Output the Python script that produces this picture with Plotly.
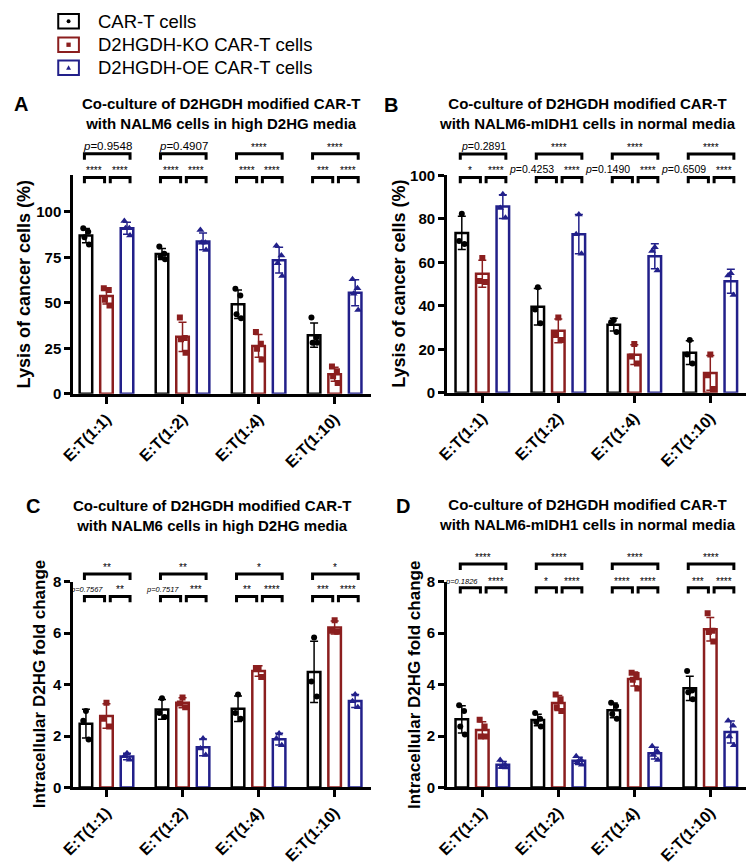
import numpy as np
import plotly.graph_objects as go

W, H = 747, 865
FONT = "Arial, Liberation Sans, Helvetica, sans-serif"

categories = ["E:T(1:1)", "E:T(1:2)", "E:T(1:4)", "E:T(1:10)"]
series_names = ["CAR-T cells", "D2HGDH-KO CAR-T cells", "D2HGDH-OE CAR-T cells"]

# ---- Panel A: lysis (%) in high D2HG media (4 replicates)
A_car = [[91, 89, 86, 82], [81, 77, 75.5, 74], [57.7, 54, 43.7, 41.5], [42, 31, 28, 28]]
A_ko = [[58, 57, 51.7, 48.5], [42, 30.7, 30, 22.6], [34, 27.5, 24.8, 18.9], [15, 12.4, 9.7, 6]]
A_oe = [[95, 91, 91, 87], [90, 83, 83, 79], [81.4, 76, 71.7, 64.7], [63, 58, 55, 46]]
A_sig = [["****", "****", "p=0.9548"], ["****", "****", "p=0.4907"],
         ["****", "****", "****"], ["***", "****", "****"]]

# ---- Panel B: lysis (%) NALM6-mIDH1 normal media (3 replicates)
B_car = [[82.4, 69.8, 68.5], [48.6, 38.3, 32], [33.5, 32.5, 28], [24.3, 17.6, 13.5]]
B_ko = [[62, 51.5, 51], [34.7, 26.6, 24.3], [22.5, 16.7, 13.5], [17.6, 8.1, 1.8]]
B_oe = [[91.4, 85, 80.6], [82, 73, 64], [67, 65.3, 56.3], [55, 54, 45]]
B_sig = [["*", "****", "p=0.2891"], ["p=0.4253", "****", "****"],
         ["p=0.1490", "****", "****"], ["p=0.6509", "****", "****"]]

# ---- Panel C: intracellular D2HG fold change, high D2HG media (3 replicates)
C_car = [[2.97, 2.6, 1.87], [3.47, 2.9, 2.74], [3.62, 2.9, 2.67], [5.83, 4.12, 3.54]]
C_ko = [[3.3, 2.67, 2.37], [3.5, 3.27, 3.12], [4.65, 4.65, 4.3], [6.51, 6.1, 6.06]]
C_oe = [[1.33, 1.21, 1.08], [1.9, 1.52, 1.26], [2.1, 1.9, 1.64], [3.62, 3.35, 3.12]]
C_sig = [["p=0.7567", "**", "**"], ["p=0.7517", "***", "**"],
         ["**", "****", "*"], ["***", "****", "*"]]

# ---- Panel D: intracellular D2HG fold change, normal media (4 replicates)
D_car = [[3.2, 2.97, 2.37, 2.06], [2.9, 2.67, 2.55, 2.37], [3.3, 3.17, 2.86, 2.67], [4.53, 3.77, 3.7, 3.43]]
D_ko = [[2.63, 2.37, 1.98, 1.98], [3.62, 3.43, 3.12, 2.97], [4.46, 4.38, 4.19, 3.85], [6.78, 6.1, 6.05, 5.68]]
D_oe = [[1.07, 0.88, 0.8, 0.78], [1.21, 1.07, 0.98, 0.88], [1.6, 1.41, 1.26, 1.07], [2.6, 2.4, 1.98, 1.64]]
D_sig = [["p=0.1826", "****", "****"], ["*", "****", "****"],
         ["****", "****", "****"], ["***", "****", "****"]]

COLORS = ["#000000", "#8B1E1E", "#22208A"]
SYMBOLS = ["circle", "square", "triangle-up"]
MSIZE = [6, 6, 7]
OFFS = [-0.27, 0.0, 0.27]
BAR_W = 0.165
JIT = {3: [0.0, -0.035, 0.035], 4: [-0.035, 0.03, -0.02, 0.04]}

title1 = "Co-culture of D2HGDH modified CAR-T"
panels = [
    dict(letter="A", data=[A_car, A_ko, A_oe], sig=A_sig,
         xpx=(62, 365), ypx=(170, 393), xr=(-0.44, 3.48), yr=(0, 120),
         yt=[0, 25, 50, 75, 100], lower=118.9, upper=131.9, pfont=11.5, sfont=10,
         title=[title1, "with NALM6 cells in high D2HG media"], tx=212, ty=106.5,
         lxy=(9, 97), ytitle="Lysis of cancer cells (%)", ytx=12, ytsize=18),
    dict(letter="B", data=[B_car, B_ko, B_oe], sig=B_sig,
         xpx=(442, 746), ypx=(170, 392), xr=(-0.466, 3.47), yr=(0, 100),
         yt=[0, 20, 40, 60, 80, 100], lower=99.1, upper=109.9, pfont=10.5, sfont=10,
         title=[title1, "with NALM6-mIDH1 cells in normal media"], tx=585, ty=106.5,
         lxy=(385, 98), ytitle="Lysis of cancer cells (%)", ytx=393, ytsize=18),
    dict(letter="C", data=[C_car, C_ko, C_oe], sig=C_sig,
         xpx=(62, 365), ypx=(585, 795), xr=(-0.44, 3.48), yr=(0, 8),
         yt=[0, 2, 4, 6, 8], lower=7.43, upper=8.30, pfont=7.5, sfont=10,
         title=[title1, "with NALM6 cells in high D2HG media"], tx=203, ty=517,
         lxy=(21, 508), ytitle="Intracellular D2HG fold change", ytx=28, ytsize=17),
    dict(letter="D", data=[D_car, D_ko, D_oe], sig=D_sig,
         xpx=(442, 746), ypx=(585, 795), xr=(-0.466, 3.47), yr=(0, 8),
         yt=[0, 2, 4, 6, 8], lower=7.77, upper=8.69, pfont=7.5, sfont=10,
         title=[title1, "with NALM6-mIDH1 cells in normal media"], tx=585, ty=516,
         lxy=(397, 508), ytitle="Intracellular D2HG fold change", ytx=409, ytsize=17),
]

LEG_PX = 6
BR_LL = (-0.29, -0.025)
BR_LR = (0.05, 0.31)
BR_UP = (-0.29, 0.31)

fig = go.Figure()
layout = dict(width=W, height=H, margin=dict(l=0, r=0, t=0, b=0),
              paper_bgcolor="white", plot_bgcolor="white", barmode="overlay",
              showlegend=False, font=dict(family=FONT, color="black"))
shapes, annotations = [], []

for i, P in enumerate(panels):
    n = "" if i == 0 else str(i + 1)
    xa, ya = "x" + n, "y" + n
    for s in range(3):
        vals = P["data"][s]
        means = [float(np.mean(v)) for v in vals]
        sds = [float(np.std(v, ddof=1)) for v in vals]
        xs = [g + OFFS[s] for g in range(len(categories))]
        fig.add_trace(go.Bar(
            x=xs, y=means, width=BAR_W, xaxis=xa, yaxis=ya, name=series_names[s],
            marker=dict(color="white", line=dict(color=COLORS[s], width=2.5)),
            error_y=dict(type="data", array=sds, visible=True, color=COLORS[s],
                         thickness=1.5, width=4),
            hoverinfo="skip"))
        px, py = [], []
        for g, v in enumerate(vals):
            jj = JIT[len(v)]
            for k, val in enumerate(v):
                px.append(g + OFFS[s] + jj[k])
                py.append(val)
        fig.add_trace(go.Scatter(
            x=px, y=py, mode="markers", xaxis=xa, yaxis=ya, name=series_names[s],
            marker=dict(symbol=SYMBOLS[s], size=MSIZE[s], color=COLORS[s]),
            hoverinfo="skip"))

    x0p, x1p = P["xpx"]
    yt_px, yb_px = P["ypx"]
    layout["xaxis" + n] = dict(
        domain=[x0p / W, x1p / W], range=list(P["xr"]), anchor=ya,
        tickvals=list(range(len(categories))), ticktext=categories, tickangle=-45,
        showline=True, linecolor="black", linewidth=2.5, ticks="outside",
        ticklen=7, tickwidth=2.5, tickcolor="black", showgrid=False, zeroline=False,
        tickfont=dict(family=FONT, size=16, color="black", weight="bold"), fixedrange=True)
    layout["yaxis" + n] = dict(
        domain=[1 - yb_px / H, 1 - yt_px / H], range=list(P["yr"]), anchor=xa,
        tickvals=P["yt"], showline=True, linecolor="black", linewidth=2.5,
        ticks="outside", ticklen=6, tickwidth=2.5, tickcolor="black",
        showgrid=False, zeroline=False,
        tickfont=dict(family=FONT, size=15, color="black", weight="bold"), fixedrange=True)

    xr0, xr1 = P["xr"]
    yr0, yr1 = P["yr"]
    fx = lambda x: (x - xr0) / (xr1 - xr0)
    fy = lambda y: (y - yr0) / (yr1 - yr0)
    leg = LEG_PX / (yb_px - yt_px)
    xdref, ydref = xa + " domain", ya + " domain"

    for g in range(len(categories)):
        labels = P["sig"][g]
        for (lo, hi), lev, lab, kind in [(BR_LL, P["lower"], labels[0], "ll"),
                                         (BR_LR, P["lower"], labels[1], "lr"),
                                         (BR_UP, P["upper"], labels[2], "up")]:
            a, b = fx(g + lo), fx(g + hi)
            yy = fy(lev)
            shapes.append(dict(type="path", xref=xdref, yref=ydref,
                               path=f"M {a},{yy - leg} L {a},{yy} L {b},{yy} L {b},{yy - leg}",
                               line=dict(color="black", width=3)))
            if lab.startswith("p="):
                txt = "<i>p</i>=" + lab[2:]
                if P["letter"] in ("C", "D"):
                    txt = "<i>p=" + lab[2:] + "</i>"
                size = P["pfont"]
                if kind == "ll":
                    xpos, xanch = b, "right"
                else:
                    xpos, xanch = (a + b) / 2, "center"
                ysh = 0
            else:
                txt = lab
                size = P["sfont"]
                xpos, xanch = (a + b) / 2, "center"
                ysh = -1
            annotations.append(dict(xref=xdref, yref=ydref, x=xpos, y=yy, text=txt,
                                    showarrow=False, xanchor=xanch, yanchor="bottom",
                                    yshift=ysh, font=dict(family=FONT, size=size, color="black")))

    # two-line panel title
    annotations.append(dict(xref="paper", yref="paper", x=P["tx"] / W, y=1 - P["ty"] / H,
                            text="<b>" + P["title"][0] + "</b><br><b>" + P["title"][1] + "</b>",
                            showarrow=False, xanchor="center", yanchor="middle", align="center",
                            font=dict(family=FONT, size=15, color="black")))
    lx, ly = P["lxy"]
    annotations.append(dict(xref="paper", yref="paper", x=lx / W, y=1 - ly / H,
                            text="<b>" + P["letter"] + "</b>", showarrow=False,
                            xanchor="center", yanchor="middle",
                            font=dict(family=FONT, size=20, color="black")))
    annotations.append(dict(xref="paper", yref="paper", x=P["ytx"] / W,
                            y=1 - ((yt_px + yb_px) / 2) / H,
                            text="<b>" + P["ytitle"] + "</b>", textangle=-90, showarrow=False,
                            xanchor="center", yanchor="middle",
                            font=dict(family=FONT, size=P["ytsize"], color="black")))

# legend (drawn manually: outlined box with marker glyph)
leg_rows = [12.5, 36.5, 60]
for s, yc in enumerate(leg_rows):
    bx0, bx1 = 47, 68
    by0, by1 = yc - 7.5, yc + 7.5
    shapes.append(dict(type="rect", xref="paper", yref="paper",
                       x0=bx0 / W, x1=bx1 / W, y0=1 - by1 / H, y1=1 - by0 / H,
                       line=dict(color=COLORS[s], width=2), fillcolor="white"))
    cx = (bx0 + bx1) / 2
    if s == 0:
        shapes.append(dict(type="circle", xref="paper", yref="paper",
                           x0=(cx - 2) / W, x1=(cx + 2) / W, y0=1 - (yc + 2) / H, y1=1 - (yc - 2) / H,
                           line=dict(width=0), fillcolor=COLORS[s]))
    elif s == 1:
        shapes.append(dict(type="rect", xref="paper", yref="paper",
                           x0=(cx - 2.2) / W, x1=(cx + 2.2) / W, y0=1 - (yc + 2.2) / H, y1=1 - (yc - 2.2) / H,
                           line=dict(width=0), fillcolor=COLORS[s]))
    else:
        shapes.append(dict(type="path", xref="paper", yref="paper",
                           path=f"M {(cx - 2.5) / W},{1 - (yc + 2) / H} L {(cx + 2.5) / W},{1 - (yc + 2) / H} L {cx / W},{1 - (yc - 2.5) / H} Z",
                           line=dict(width=0), fillcolor=COLORS[s]))
    annotations.append(dict(xref="paper", yref="paper", x=85 / W, y=1 - yc / H,
                            text=series_names[s], showarrow=False, xanchor="left",
                            yanchor="middle", font=dict(family=FONT, size=18.5, color="black")))

layout["shapes"] = shapes
layout["annotations"] = annotations
fig.update_layout(**layout)
fig.write_html("out.html", config={"displayModeBar": False},
               post_script="document.body.style.margin='0';document.body.style.padding='0';"
                           "document.documentElement.style.overflow='hidden';")
